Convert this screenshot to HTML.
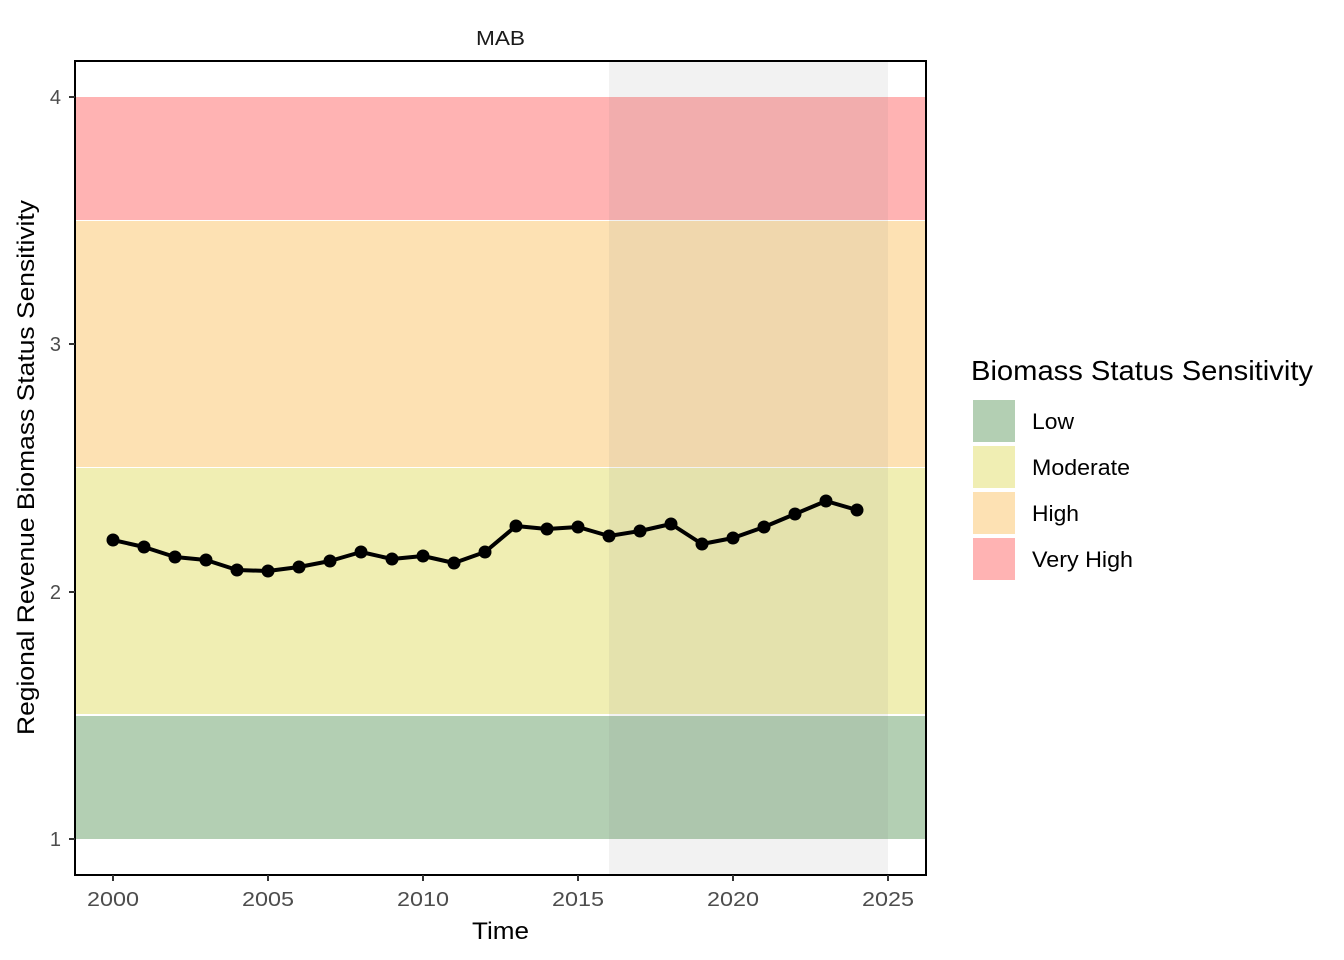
<!DOCTYPE html>
<html><head><meta charset="utf-8"><style>body{margin:0;background:#fff}svg{display:block}text{font-family:"Liberation Sans",Arial,sans-serif}</style></head>
<body>
<svg width="1344" height="960" xmlns="http://www.w3.org/2000/svg">
<rect width="1344" height="960" fill="#fff"/>
<text x="476" y="45" font-size="20" textLength="49" lengthAdjust="spacingAndGlyphs" fill="#1a1a1a">MAB</text>
<g>
<rect x="75" y="97" width="851" height="123" fill="#ffb3b3"/>
<rect x="75" y="221" width="851" height="246" fill="#fde1b3"/>
<rect x="75" y="468" width="851" height="246" fill="#f0eeb3"/>
<rect x="75" y="716" width="851" height="123" fill="#b3cfb3"/>
<rect x="609" y="61" width="279" height="814" fill="#7f7f7f" fill-opacity="0.1"/>
</g>
<polyline fill="none" stroke="#000" stroke-width="4" stroke-linejoin="round" points="113,540 144,547 175,557 206,560 237,570 268,571 299,567 330,561 361,552 392,559 423,556 454,563 485,552 516,526 547,529 578,527 609,536 640,531 671,524 702,544 733,538 764,527 795,514 826,501 857,510"/>
<g fill="#000">
<circle cx="113" cy="540" r="6.5"/><circle cx="144" cy="547" r="6.5"/><circle cx="175" cy="557" r="6.5"/><circle cx="206" cy="560" r="6.5"/><circle cx="237" cy="570" r="6.5"/><circle cx="268" cy="571" r="6.5"/><circle cx="299" cy="567" r="6.5"/><circle cx="330" cy="561" r="6.5"/><circle cx="361" cy="552" r="6.5"/><circle cx="392" cy="559" r="6.5"/><circle cx="423" cy="556" r="6.5"/><circle cx="454" cy="563" r="6.5"/><circle cx="485" cy="552" r="6.5"/><circle cx="516" cy="526" r="6.5"/><circle cx="547" cy="529" r="6.5"/><circle cx="578" cy="527" r="6.5"/><circle cx="609" cy="536" r="6.5"/><circle cx="640" cy="531" r="6.5"/><circle cx="671" cy="524" r="6.5"/><circle cx="702" cy="544" r="6.5"/><circle cx="733" cy="538" r="6.5"/><circle cx="764" cy="527" r="6.5"/><circle cx="795" cy="514" r="6.5"/><circle cx="826" cy="501" r="6.5"/><circle cx="857" cy="510" r="6.5"/>
</g>
<rect x="75" y="61" width="851" height="814" fill="none" stroke="#000" stroke-width="2"/>
<g stroke="#333" stroke-width="2">
<line x1="69" y1="97" x2="75" y2="97"/><line x1="69" y1="344" x2="75" y2="344"/><line x1="69" y1="592" x2="75" y2="592"/><line x1="69" y1="839" x2="75" y2="839"/>
<line x1="113" y1="875" x2="113" y2="881"/><line x1="268" y1="875" x2="268" y2="881"/><line x1="423" y1="875" x2="423" y2="881"/><line x1="578" y1="875" x2="578" y2="881"/><line x1="733" y1="875" x2="733" y2="881"/><line x1="888" y1="875" x2="888" y2="881"/>
</g>
<g font-size="20" fill="#4d4d4d" text-anchor="end">
<text x="61" y="104">4</text><text x="61" y="351">3</text><text x="61" y="599">2</text><text x="61" y="846">1</text>
</g>
<g font-size="20" fill="#4d4d4d">
<text x="87" y="906" textLength="52" lengthAdjust="spacingAndGlyphs">2000</text><text x="242" y="906" textLength="52" lengthAdjust="spacingAndGlyphs">2005</text><text x="397" y="906" textLength="52" lengthAdjust="spacingAndGlyphs">2010</text><text x="552" y="906" textLength="52" lengthAdjust="spacingAndGlyphs">2015</text><text x="707" y="906" textLength="52" lengthAdjust="spacingAndGlyphs">2020</text><text x="862" y="906" textLength="52" lengthAdjust="spacingAndGlyphs">2025</text>
</g>
<text x="472" y="939" font-size="24" textLength="57" lengthAdjust="spacingAndGlyphs" fill="#000">Time</text>
<text transform="translate(34,735) rotate(-90)" font-size="24" textLength="535" lengthAdjust="spacingAndGlyphs" fill="#000">Regional Revenue Biomass Status Sensitivity</text>
<text x="971" y="380" font-size="28" textLength="342" lengthAdjust="spacingAndGlyphs" fill="#000">Biomass Status Sensitivity</text>
<rect x="973" y="400" width="42" height="42" fill="#b3cfb3"/>
<rect x="973" y="446" width="42" height="42" fill="#f0eeb3"/>
<rect x="973" y="492" width="42" height="42" fill="#fde1b3"/>
<rect x="973" y="538" width="42" height="42" fill="#ffb3b3"/>
<g font-size="22" fill="#000">
<text x="1032" y="429" textLength="42" lengthAdjust="spacingAndGlyphs">Low</text><text x="1032" y="475" textLength="98" lengthAdjust="spacingAndGlyphs">Moderate</text><text x="1032" y="521" textLength="47" lengthAdjust="spacingAndGlyphs">High</text><text x="1032" y="567" textLength="101" lengthAdjust="spacingAndGlyphs">Very High</text>
</g>
</svg>
</body></html>
